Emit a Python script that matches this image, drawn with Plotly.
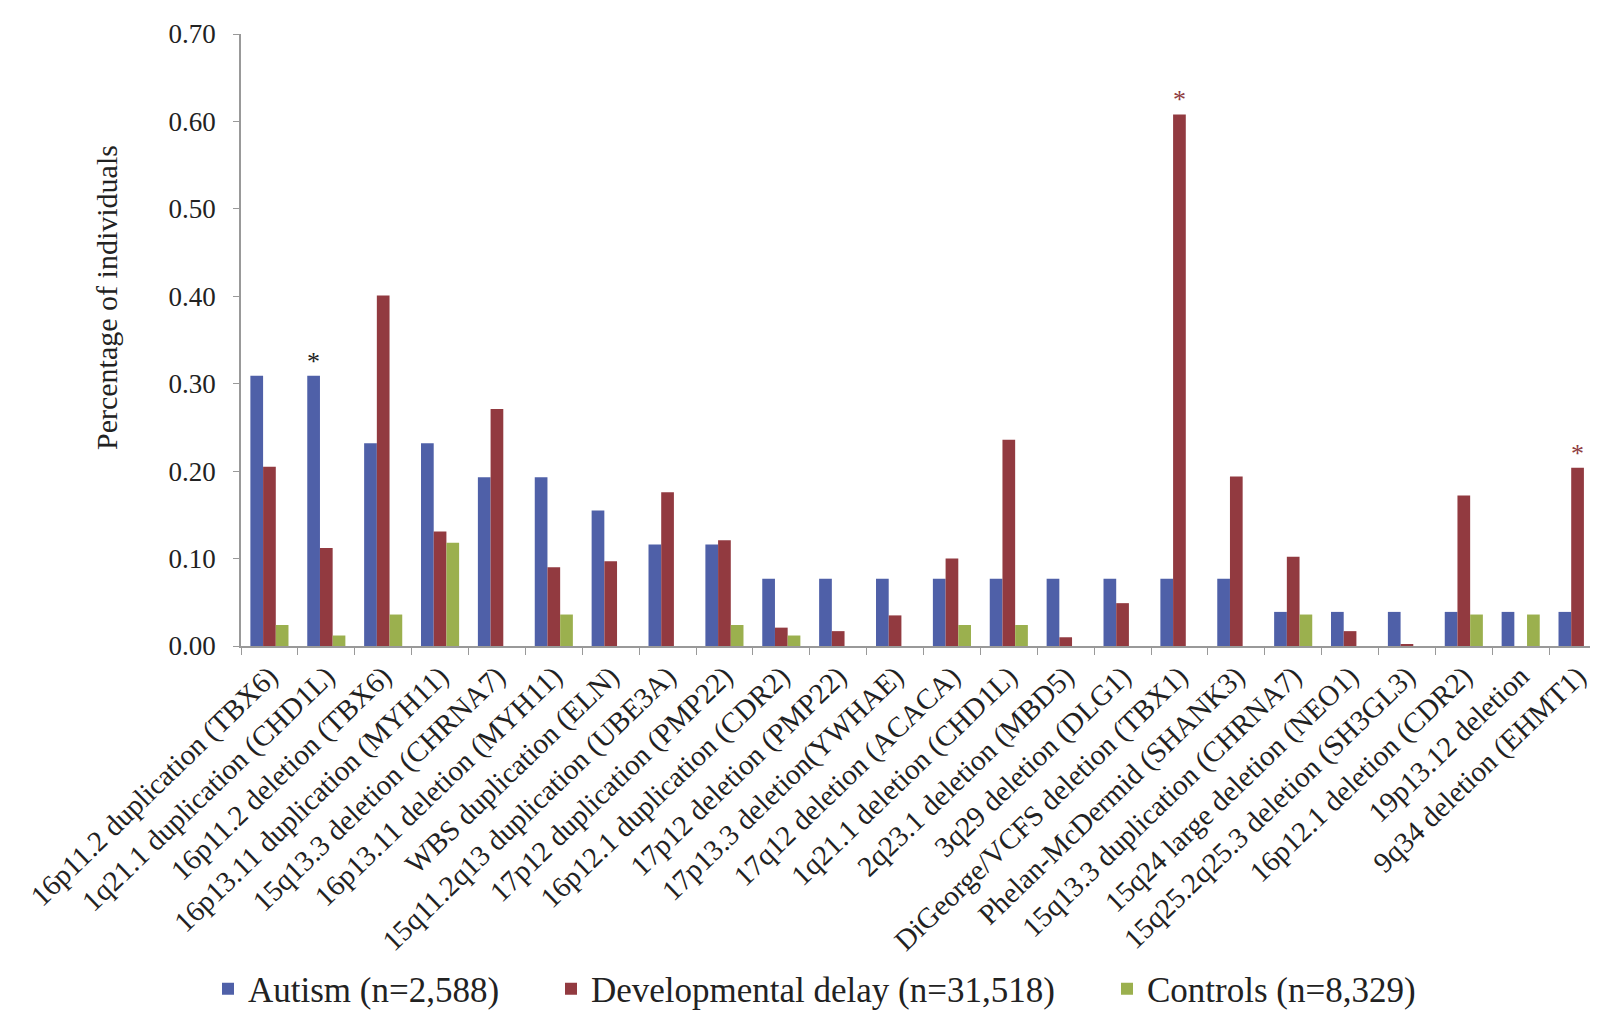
import plotly.graph_objects as go

categories = [
    "16p11.2 duplication (TBX6)", "1q21.1 duplication (CHD1L)", "16p11.2 deletion (TBX6)",
    "16p13.11 duplication (MYH11)", "15q13.3 deletion (CHRNA7)", "16p13.11 deletion (MYH11)",
    "WBS duplication (ELN)", "15q11.2q13 duplication (UBE3A)", "17p12 duplication (PMP22)",
    "16p12.1 duplication (CDR2)", "17p12 deletion (PMP22)", "17p13.3 deletion(YWHAE)",
    "17q12 deletion (ACACA)", "1q21.1 deletion (CHD1L)", "2q23.1 deletion (MBD5)",
    "3q29 deletion (DLG1)", "DiGeorge/VCFS deletion (TBX1)", "Phelan-McDermid (SHANK3)",
    "15q13.3 duplication (CHRNA7)", "15q24 large deletion (NEO1)", "15q25.2q25.3 deletion (SH3GL3)",
    "16p12.1 deletion (CDR2)", "19p13.12 deletion", "9q34 deletion (EHMT1)",
]

autism = [0.309, 0.309, 0.232, 0.232, 0.193, 0.193, 0.155, 0.116, 0.116, 0.077, 0.077, 0.077,
          0.077, 0.077, 0.077, 0.077, 0.077, 0.077, 0.039, 0.039, 0.039, 0.039, 0.039, 0.039]
dev_delay = [0.205, 0.112, 0.401, 0.131, 0.271, 0.090, 0.097, 0.176, 0.121, 0.021, 0.017, 0.035,
             0.100, 0.236, 0.010, 0.049, 0.608, 0.194, 0.102, 0.017, 0.002, 0.172, 0.000, 0.204]
controls = [0.024, 0.012, 0.036, 0.118, 0.000, 0.036, 0.000, 0.000, 0.024, 0.012, 0.000, 0.000,
            0.024, 0.024, 0.000, 0.000, 0.000, 0.000, 0.036, 0.000, 0.000, 0.036, 0.036, 0.000]

series_names = ["Autism (n=2,588)", "Developmental delay (n=31,518)", "Controls (n=8,329)"]
series_colors = ["#4F60A8", "#923A40", "#9BB04E"]

# significance markers: (category index, series index)
sig_marks = [(1, 0), (16, 1), (23, 1)]
sig_colors = ["#222222", "#8E3A40", "#8E3A40"]

FONT = "Liberation Serif, Times New Roman, serif"

PLOT_L, PLOT_W, PLOT_T, PLOT_H = 233, 1365, 26, 612

fig = go.Figure()
legend_ids = ["legend", "legend2", "legend3"]
for name, vals, col, lg in zip(series_names, [autism, dev_delay, controls], series_colors, legend_ids):
    fig.add_trace(go.Bar(x=categories, y=vals, name=name, marker_color=col,
                         marker_line_width=0, legend=lg))

bargap = 0.33
bar_w_frac = (1 - bargap) / 3
cat_px = PLOT_W / len(categories)
all_series = [autism, dev_delay, controls]
for (ci, si), col in zip(sig_marks, sig_colors):
    fig.add_annotation(x=categories[ci], y=all_series[si][ci], xref="x", yref="y",
                       text="*", showarrow=False, yanchor="bottom",
                       xshift=(si - 1) * bar_w_frac * cat_px, yshift=-2,
                       font=dict(family=FONT, size=26, color=col))

fig.add_annotation(text="Percentage of individuals", xref="paper", yref="paper",
                   x=(98 - PLOT_L) / PLOT_W, y=(PLOT_T + PLOT_H - 290) / PLOT_H, textangle=-90,
                   showarrow=False, xanchor="center", yanchor="middle",
                   font=dict(family=FONT, size=30, color="#222"))

legend_font = dict(family=FONT, size=35, color="#222")
legend_left_px = [200, 543, 1099]


def legend_cfg(px):
    return dict(orientation="h", x=(px - PLOT_L) / PLOT_W, xanchor="left",
                y=(PLOT_T + PLOT_H - 981) / PLOT_H, yanchor="middle",
                font=legend_font, itemwidth=30, bgcolor="rgba(0,0,0,0)")


fig.update_layout(
    width=1598, height=1017,
    margin=dict(l=PLOT_L, r=0, t=PLOT_T, b=1017 - PLOT_T - PLOT_H),
    paper_bgcolor="white", plot_bgcolor="white",
    barmode="group", bargap=bargap, bargroupgap=0,
    font=dict(family=FONT, color="#222"),
    showlegend=True,
    legend=legend_cfg(legend_left_px[0]),
    legend2=legend_cfg(legend_left_px[1]),
    legend3=legend_cfg(legend_left_px[2]),
    xaxis=dict(tickangle=-44, tickfont=dict(family=FONT, size=29, color="#222"),
               showline=True, linecolor="#999", linewidth=1.5,
               ticks="outside", tickson="boundaries", ticklen=7, tickcolor="#999",
               showgrid=False, range=[-0.5, len(categories) - 0.5]),
    yaxis=dict(range=[0, 0.7], dtick=0.1, tickformat=".2f",
               tickfont=dict(family=FONT, size=27, color="#222"),
               showline=True, linecolor="#999", linewidth=1.5,
               ticks="outside", ticklen=6, tickcolor="#999", showgrid=False,
               ticklabelstandoff=12, zeroline=False),
)

fig.write_html("out.html")
